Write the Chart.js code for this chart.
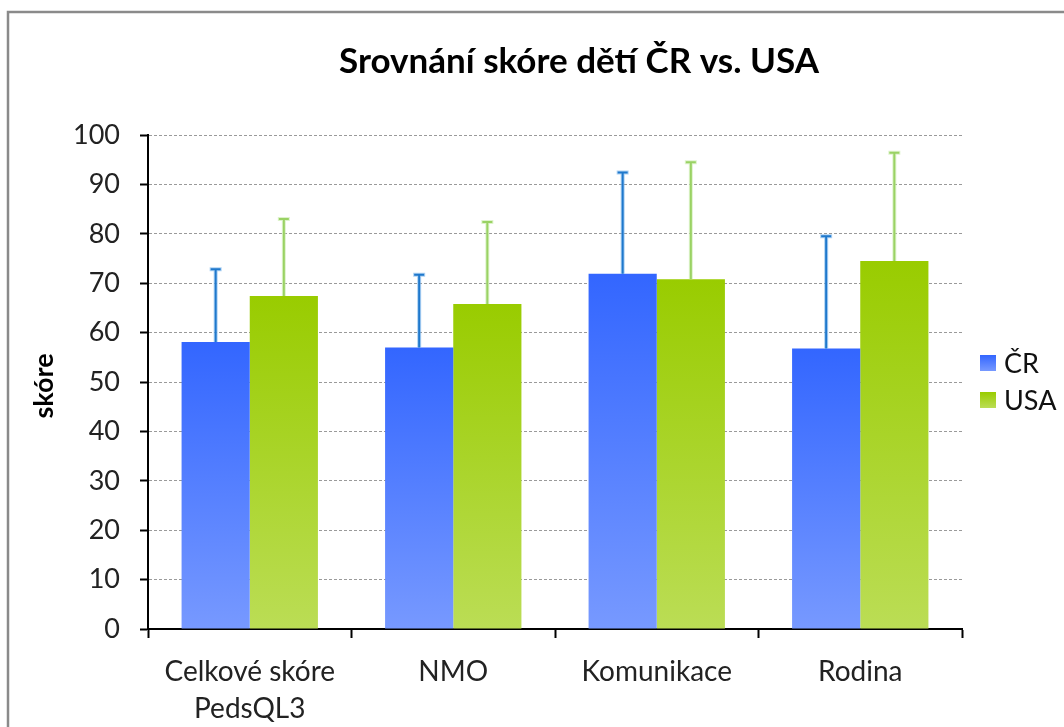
<!DOCTYPE html>
<html><head><meta charset="utf-8">
<script src="https://cdn.jsdelivr.net/npm/chart.js@4.4.1/dist/chart.umd.min.js"></script>
<style>html,body{margin:0;padding:0;background:#fff}#wrap{width:1064px;height:727px;position:relative}canvas{display:block}</style>
</head><body><div id="wrap"><canvas id="c" width="1064" height="727"></canvas></div>
<script>
const chartTitle = "Srovnání skóre dětí ČR vs. USA";
const yAxisTitle = "skóre";
const categories = [["Celkové skóre", "PedsQL3"], "NMO", "Komunikace", "Rodina"];
const seriesNames = ["ČR", "USA"];
const crValues = [58.1, 57.0, 71.9, 56.8];
const crErrors = [14.7, 14.7, 20.5, 22.7];
const usaValues = [67.4, 65.8, 70.8, 74.5];
const usaErrors = [15.6, 16.6, 23.7, 21.9];
const yMin = 0, yMax = 100, yStep = 10;

const palette = {
  cr: { top: '#3366FF', bottom: '#7799FF', err: '#1F78CC', errHalo: 'rgba(120,180,235,0.6)' },
  usa: { top: '#99CC00', bottom: '#BBDD55', err: '#9AD264', errHalo: 'rgba(200,235,170,0.6)' }
};

function barGradient(ctx, pal) {
  const chart = ctx.chart;
  const area = chart.chartArea;
  if (!area || ctx.type !== 'data') return pal.top;
  const y = chart.scales.y;
  const v = ctx.raw;
  const yTop = y.getPixelForValue(v);
  const yBot = y.getPixelForValue(0);
  const g = chart.ctx.createLinearGradient(0, yTop, 0, yBot);
  g.addColorStop(0, pal.top);
  g.addColorStop(1, pal.bottom);
  return g;
}

const errorData = [crErrors, usaErrors];
const errPal = [palette.cr, palette.usa];

const decorPlugin = {
  id: 'decor',
  beforeDraw(chart) {
    const c = chart.ctx;
    c.save();
    c.fillStyle = '#fff';
    c.fillRect(0, 0, chart.width, chart.height);
    c.strokeStyle = '#8a8a8a';
    c.lineWidth = 2.5;
    c.strokeRect(8, 12, 1100, 760);
    c.restore();
  },
  afterDatasetsDraw(chart) {
    const c = chart.ctx;
    const y = chart.scales.y;
    chart.data.datasets.forEach((ds, di) => {
      const meta = chart.getDatasetMeta(di);
      const pal = errPal[di];
      meta.data.forEach((bar, i) => {
        const top = y.getPixelForValue(ds.data[i] + errorData[di][i]);
        const x = bar.x;
        c.save();
        c.lineCap = 'butt';
        c.strokeStyle = pal.errHalo;
        c.lineWidth = 4;
        c.beginPath();
        c.moveTo(x, bar.y); c.lineTo(x, top);
        c.moveTo(x - 6, top); c.lineTo(x + 6, top);
        c.stroke();
        c.strokeStyle = pal.err;
        c.lineWidth = 2;
        c.beginPath();
        c.moveTo(x, bar.y); c.lineTo(x, top);
        c.moveTo(x - 5, top); c.lineTo(x + 5, top);
        c.stroke();
        c.restore();
      });
    });
  },
  afterDraw(chart) {
    const c = chart.ctx;
    c.save();
    c.fillStyle = '#000';
    c.font = 'bold 35px Lato';
    c.textAlign = 'center';
    c.textBaseline = 'middle';
    c.fillText(chartTitle, 579, 62);

    c.save();
    c.translate(44, 386);
    c.rotate(-Math.PI / 2);
    c.font = 'bold 27px Lato';
    c.fillStyle = '#000';
    c.fillText(yAxisTitle, 0, 0);
    c.restore();

    const pals = [palette.cr, palette.usa];
    const rowsY = [363, 400];
    c.font = '27px Lato';
    c.textAlign = 'left';
    c.textBaseline = 'middle';
    seriesNames.forEach((name, i) => {
      const yy = rowsY[i];
      const g = c.createLinearGradient(0, yy - 8, 0, yy + 8);
      g.addColorStop(0, pals[i].top);
      g.addColorStop(1, pals[i].bottom);
      c.fillStyle = g;
      c.fillRect(980, yy - 8, 16, 16);
      c.fillStyle = '#111';
      c.fillText(name, 1004, yy + 1);
    });
    c.restore();
  }
};

new Chart(document.getElementById('c'), {
  type: 'bar',
  data: {
    labels: categories,
    datasets: [
      { label: seriesNames[0], data: crValues, backgroundColor: ctx => barGradient(ctx, palette.cr), borderWidth: 0 },
      { label: seriesNames[1], data: usaValues, backgroundColor: ctx => barGradient(ctx, palette.usa), borderWidth: 0 }
    ]
  },
  options: {
    responsive: false,
    animation: false,
    events: [],
    layout: { padding: { left: 0, right: 102, top: 135, bottom: 0 } },
    datasets: { bar: { categoryPercentage: 0.67, barPercentage: 1.0 } },
    plugins: { legend: { display: false }, title: { display: false }, tooltip: { enabled: false } },
    scales: {
      x: {
        offset: true,
        grid: { display: true, drawOnChartArea: false, drawTicks: true, tickLength: 9, tickColor: '#000', tickWidth: 2, offset: true },
        border: { display: true, color: '#000', width: 2 },
        ticks: { font: { family: 'Lato', size: 28, lineHeight: 1.3 }, color: '#222', padding: 16, maxRotation: 0, autoSkip: false },
        afterFit(scale) { scale.height = 98; }
      },
      y: {
        min: yMin, max: yMax,
        ticks: { stepSize: yStep, font: { family: 'Lato', size: 27 }, color: '#222', padding: 20 },
        grid: { color: '#9a9a9a', lineWidth: 1, drawTicks: true, tickLength: 8, tickColor: '#000', tickWidth: 2 },
        border: { display: true, color: '#000', width: 2, dash: [3, 2] },
        afterFit(scale) { scale.width = 148; }
      }
    }
  },
  plugins: [decorPlugin]
});
</script>
</body></html>
